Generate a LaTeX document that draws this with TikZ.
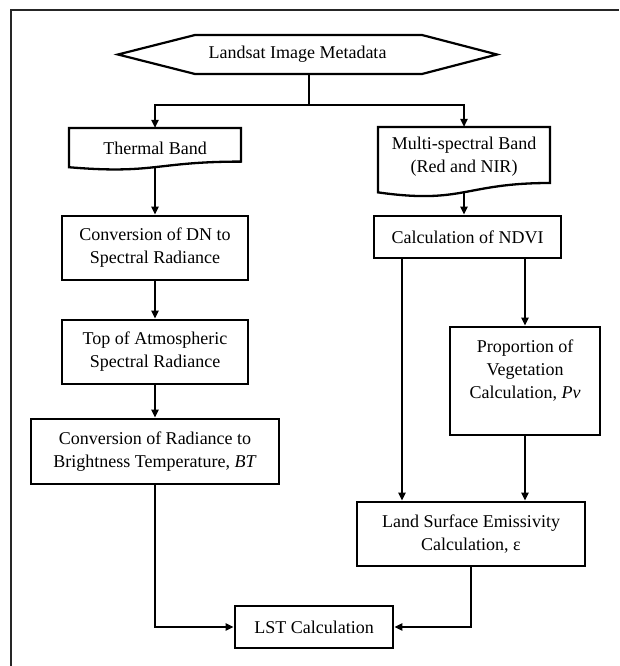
\documentclass[tikz,border=0pt]{standalone}
\usepackage{fontspec}
\setmainfont{Liberation Serif}
\usetikzlibrary{arrows.meta,calc}
\tikzset{
  lbl/.style={font=\fontsize{18}{23}\selectfont, align=center, inner sep=0pt},
  boxline/.style={draw=black, line width=2.6pt},
  stepbox/.style={lbl, boxline, rectangle},
  conn/.style={draw=black, line width=2pt},
  arr/.style={conn, -{Triangle[length=8pt,width=7pt]}},
}
\newcommand\docshape[4]{%
  \draw[boxline, line width=2.3pt] ($(#1.center)+(-#2,-#3)$) coordinate (#1nw)
    -- ($(#1nw)+(2*#2,0)$)
    -- ($(#1nw)+(2*#2,0.8*#4)$)
    .. controls ($(#1nw)+(#2,0.8*#4)$) and ($(#1nw)+(#2,1.107*#4)$) ..
    ($(#1nw)+(0,0.934*#4)$) -- cycle;
  \coordinate (#1bot) at ($(#1.center)+(0,{0.932*#4-#3})$);}
\begin{document}
\begin{tikzpicture}[x=1pt,y=-1pt]
\fill[white] (0,0) rectangle (619,666);
\useasboundingbox (0,0) rectangle (619,666);
\draw[line width=1.8pt, draw=black!85] (11,666) -- (11,10) -- (619,10);

% top hexagon
\node[lbl] (meta) at (297.5,54.5) {Landsat Image Metadata};
\draw[boxline, line width=2.2pt] (118,54.5) -- (195,35) -- (422,35) -- (497,54.5) -- (422,74) -- (195,74) -- cycle;
\coordinate (hexb) at (309,74);
\coordinate (split) at (309,105);

% document shapes
\node[lbl] (tb) at (155,148) {Thermal Band};
\docshape{tb}{86}{20}{42}
\node[lbl] (ms) at (464,157) {Multi-spectral Band\\(Red and NIR)};
\docshape{ms}{86}{30}{70}

% left column
\node[stepbox, minimum width=186, minimum height=64] (convdn) at (155,248) {Conversion of DN to\\Spectral Radiance};
\node[stepbox, minimum width=186, minimum height=64] (toa) at (155,352) {Top of Atmospheric\\Spectral Radiance};
\node[stepbox, minimum width=248, minimum height=65] (convrad) at (155,451.5) {Conversion of Radiance to\\Brightness Temperature, \textit{BT}};

% right column
\node[stepbox, minimum width=187, minimum height=42] (ndvi) at (467.5,237) {Calculation of NDVI};
\node[stepbox, minimum width=150, minimum height=108] (prop) at (525,381) {Proportion of\\Vegetation\\Calculation, \textit{Pv}\\\mbox{}};
\node[stepbox, minimum width=228, minimum height=64] (lse) at (471,534) {Land Surface Emissivity\\Calculation, ε};
\node[stepbox, minimum width=158, minimum height=42] (lst) at (314,627) {LST Calculation};
\coordinate (cl) at (402,0);

% connectors
\draw[conn] (hexb) -- (split);
\draw[arr] (split) -| (tb.center |- tbnw);
\draw[arr] (split) -| (ms.center |- msnw);
\draw[arr] (tbbot) -- (convdn.north);
\draw[arr] (convdn.south) -- (toa.north);
\draw[arr] (toa.south) -- (convrad.north);
\draw[arr] (msbot) -- (ndvi.north -| msbot);
\draw[arr] (ndvi.south -| cl) -- (lse.north -| cl);
\draw[arr] (ndvi.south -| prop.north) -- (prop.north);
\draw[arr] (prop.south) -- (lse.north -| prop.south);
\draw[arr] (convrad.south) |- (lst.west);
\draw[arr] (lse.south) |- (lst.east);
\end{tikzpicture}
\end{document}
